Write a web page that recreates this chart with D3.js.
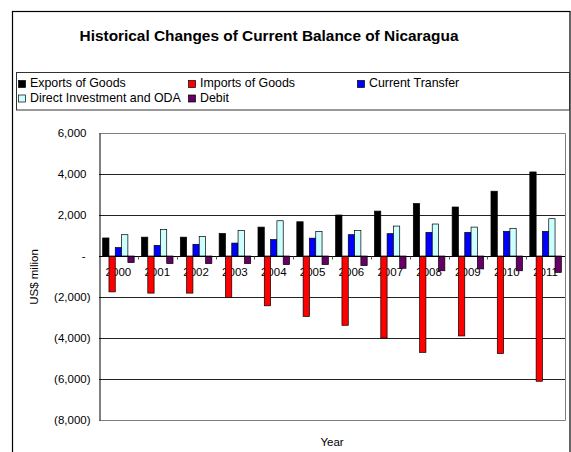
<!DOCTYPE html>
<html>
<head>
<meta charset="utf-8">
<script src="https://cdn.jsdelivr.net/npm/d3@7"></script>
<style>
  body { margin: 0; background: #fff; }
  text { font-family: "Liberation Sans", Arial, sans-serif; fill: #000; }
</style>
</head>
<body>
<div id="chart"></div>
<script>
// data (US$ million)
var years = ['2000','2001','2002','2003','2004','2005','2006','2007','2008','2009','2010','2011'];
var exportsGoods = [880, 920, 920, 1100, 1410, 1670, 2000, 2190, 2560, 2390, 3160, 4100];
var importsGoods = [-1750, -1810, -1810, -2020, -2430, -2950, -3380, -4000, -4700, -3900, -4760, -6110];
var currentTransfer = [410, 520, 570, 630, 800, 870, 1040, 1090, 1150, 1150, 1200, 1200];
var directInvestment = [1040, 1290, 950, 1250, 1720, 1200, 1250, 1460, 1560, 1410, 1350, 1820];
var debit = [-320, -370, -370, -370, -420, -420, -470, -600, -720, -630, -720, -800];
var seriesNames = ['Exports of Goods', 'Imports of Goods', 'Current Transfer', 'Direct Investment and ODA', 'Debit'];
var seriesColors = ['#000000', '#ff0000', '#0000ff', '#ccffff', '#660066'];
var yTicks = [-8000, -6000, -4000, -2000, 0, 2000, 4000, 6000];

var allSeries = [exportsGoods, importsGoods, currentTransfer, directInvestment, debit];

var svg = d3.select('#chart')
    .append('svg')
    .attr('width', 571)
    .attr('height', 452)

svg.append('rect')
    .attr('width', 571).attr('height', 452)
    .attr('fill', '#fff')

// outer frame (runs off the bottom)
svg.append('rect')
    .attr('x', 12.5).attr('y', 11.5)
    .attr('width', 557.5).attr('height', 460)
    .attr('fill', 'none')
    .attr('stroke', '#000')
    .attr('stroke-width', 1.2)

svg.append('text')
    .attr('x', 269)
    .attr('y', 40.5)
    .attr('text-anchor', 'middle')
    .style('font-size', '15.4px')
    .style('font-weight', 'bold')
    .text('Historical Changes of Current Balance of Nicaragua')

// legend
svg.append('rect')
    .attr('x', 16.5).attr('y', 72.5)
    .attr('width', 553).attr('height', 37.5)
    .attr('fill', 'none')
    .attr('stroke', '#333')
    .attr('stroke-width', 1)

var legendPos = [[18, 87], [188, 87], [357, 87], [18, 101.5], [188, 101.5]];
var legend = svg.selectAll('.legend')
    .data(seriesNames)
    .enter()
    .append('g')
    .attr('class', 'legend')
    .attr('transform', function(d, i) { return 'translate(' + legendPos[i][0] + ',' + legendPos[i][1] + ')'; })
legend.append('rect')
    .attr('x', 0.5).attr('y', -6.5)
    .attr('width', 7).attr('height', 7)
    .attr('fill', function(d, i) { return seriesColors[i]; })
    .attr('stroke', '#000')
    .attr('stroke-width', 0.7)
legend.append('text')
    .attr('x', 12)
    .attr('y', 0)
    .style('font-size', '12.4px')
    .text(function(d) { return d; })

// plot area
var plotL = 99, plotR = 565, plotT = 133, plotB = 420;

var x = d3.scaleBand()
    .domain(years)
    .range([plotL, plotR])
    .padding(0)
var gap = x.bandwidth() * 0.094;
var xs = d3.scaleBand()
    .domain(d3.range(seriesNames.length))
    .range([gap, x.bandwidth() - gap])

var y = d3.scaleLinear()
    .domain([-8000, 6000])
    .range([plotB, plotT])

// gridlines
svg.append('g')
    .selectAll('line')
    .data(yTicks.filter(function(d) { return d > -8000 && d < 6000 && d != 0; }))
    .enter()
    .append('line')
    .attr('x1', plotL).attr('x2', plotR)
    .attr('y1', function(d) { return Math.round(y(d)) + 0.5; })
    .attr('y2', function(d) { return Math.round(y(d)) + 0.5; })
    .attr('stroke', '#222')
    .attr('stroke-width', 1)

// plot border
svg.append('path')
    .attr('d', 'M' + plotL + ',' + (plotT + 0.5) + 'H' + (plotR + 0.5) + 'V' + (plotB + 0.5) + 'H' + plotL)
    .attr('fill', 'none')
    .attr('stroke', '#808080')
    .attr('stroke-width', 1)

// y axis
var fmt = d3.format(',');
var yAxis = d3.axisLeft(y)
    .tickValues(yTicks)
    .tickSize(0)
    .tickPadding(13)
    .tickFormat(function(d) {
        if (d == 0) return '-';
        if (d < 0) return '(' + fmt(-d) + ')';
        return fmt(d);
    })
var gy = svg.append('g')
    .attr('transform', 'translate(' + (plotL + 0.5) + ',0)')
    .call(yAxis)
gy.select('.domain').attr('stroke', '#000')
gy.selectAll('text')
    .style('font-size', '11.5px')
    .attr('dx', function(d) { return d < 0 ? 4 : (d == 0 ? -1 : 0); })

svg.append('text')
    .attr('transform', 'translate(38,277) rotate(-90)')
    .attr('text-anchor', 'middle')
    .style('font-size', '11.5px')
    .text('US$ milion')

// year labels sit under the zero line, bars draw over them
svg.append('g')
    .selectAll('text')
    .data(years)
    .enter()
    .append('text')
    .attr('x', function(d) { return x(d) + x.bandwidth() / 2; })
    .attr('y', y(0) + 20)
    .attr('text-anchor', 'middle')
    .style('font-size', '11.5px')
    .text(function(d) { return d; })

svg.append('text')
    .attr('x', 332)
    .attr('y', 446)
    .attr('text-anchor', 'middle')
    .style('font-size', '11.5px')
    .text('Year')

// bars
allSeries.forEach(function(vals, s) {
    svg.append('g')
        .selectAll('rect')
        .data(vals)
        .enter()
        .append('rect')
        .attr('x', function(d, i) { return x(years[i]) + xs(s); })
        .attr('y', function(d) { return y(Math.max(d, 0)); })
        .attr('width', xs.bandwidth())
        .attr('height', function(d) { return Math.abs(y(d) - y(0)); })
        .attr('fill', seriesColors[s])
        .attr('stroke', '#000')
        .attr('stroke-width', 0.7)
})

// zero line with category ticks
var zy = Math.round(y(0)) + 0.5;
svg.append('line')
    .attr('x1', plotL).attr('x2', plotR)
    .attr('y1', zy).attr('y2', zy)
    .attr('stroke', '#000')
svg.append('g')
    .selectAll('line')
    .data(years.slice(1))
    .enter()
    .append('line')
    .attr('x1', function(d) { return Math.round(x(d)) + 0.5; })
    .attr('x2', function(d) { return Math.round(x(d)) + 0.5; })
    .attr('y1', zy).attr('y2', zy + 3)
    .attr('stroke', '#555')
</script>
</body>
</html>
